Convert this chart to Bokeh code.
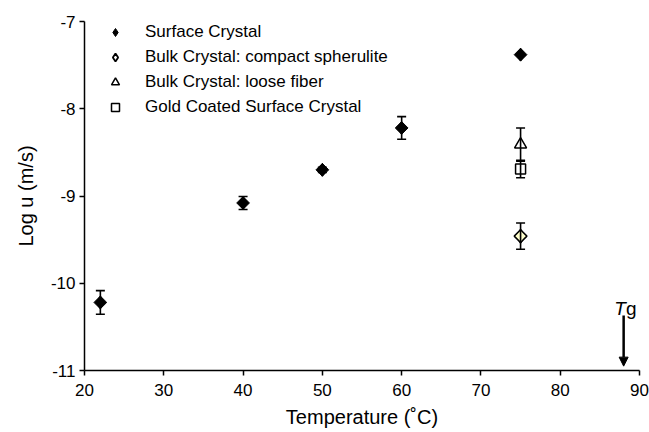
import numpy as np
from bokeh.plotting import figure
from bokeh.models import (ColumnDataSource, Whisker, TeeHead, Arrow, NormalHead,
                          Label, Legend, LegendItem, Range1d, FixedTicker)
from bokeh.embed import file_html
from bokeh.resources import INLINE

# ---------------- data ----------------
surf_T = [22, 40, 50, 60, 75]
surf_logu = [-10.22, -9.08, -8.70, -8.22, -7.38]
surf_err = [0.135, 0.075, 0.03, 0.13, 0.0]

sph_T = [75]
sph_logu = [-9.46]
sph_err = [0.15]

fib_T = [75]
fib_logu = [-8.41]
fib_err = [0.19]

gold_T = [75]
gold_logu = [-8.69]
gold_err = [0.10]

Tg = 88
x_ticks = [20, 30, 40, 50, 60, 70, 80, 90]
y_ticks = [-11, -10, -9, -8, -7]
legend_labels = ["Surface Crystal", "Bulk Crystal: compact spherulite",
                 "Bulk Crystal: loose fiber", "Gold Coated Surface Crystal"]

FONT = "Liberation Sans"

p = figure(width=649, height=432, x_range=Range1d(20, 90), y_range=Range1d(-11, -7),
           output_backend="svg", toolbar_location=None,
           min_border_left=84, min_border_right=10, min_border_top=21, min_border_bottom=62)
p.outline_line_color = None
p.xgrid.visible = False
p.ygrid.visible = False
p.background_fill_color = "white"
p.border_fill_color = "white"

for ax, ticks in ((p.xaxis[0], x_ticks), (p.yaxis[0], y_ticks)):
    ax.ticker = FixedTicker(ticks=ticks)
    ax.major_label_overrides = {t: str(t) for t in ticks}
    ax.minor_tick_line_color = None
    ax.major_tick_in = 0
    ax.major_tick_out = 5
    ax.axis_line_color = "black"
    ax.axis_line_width = 1.5
    ax.major_tick_line_color = "black"
    ax.major_tick_line_width = 1.5
    ax.major_label_text_font = FONT
    ax.major_label_text_font_size = "17px"
    ax.major_label_text_color = "black"
    ax.axis_label_text_font = FONT
    ax.axis_label_text_font_size = "20px"
    ax.axis_label_text_font_style = "normal"
    ax.axis_label_text_color = "black"

p.xaxis[0].major_label_standoff = 8
p.xaxis[0].axis_label = "Temperature (˚C)"
p.xaxis[0].axis_label_standoff = 7
p.yaxis[0].major_label_standoff = 4
p.yaxis[0].axis_label = "Log u (m/s)"
p.yaxis[0].axis_label_standoff = 11

def whiskers(xs, ys, es):
    xs = np.asarray(xs, float); ys = np.asarray(ys, float); es = np.asarray(es, float)
    m = es > 0
    src = ColumnDataSource(dict(x=xs[m], upper=ys[m] + es[m], lower=ys[m] - es[m]))
    w = Whisker(source=src, base="x", upper="upper", lower="lower", dimension="height",
                line_width=1.6, line_color="black",
                upper_head=TeeHead(size=9, line_width=1.6, line_color="black"),
                lower_head=TeeHead(size=9, line_width=1.6, line_color="black"))
    w.level = "glyph"
    p.add_layout(w)

whiskers(surf_T, surf_logu, surf_err)
whiskers(sph_T, sph_logu, sph_err)
whiskers(fib_T, fib_logu, fib_err)
whiskers(gold_T, gold_logu, gold_err)

# legend glyphs (plain diamonds, hidden beneath the rotated-square markers)
l_surf = p.scatter(surf_T, surf_logu, marker="diamond", size=13,
                   fill_color="black", line_color="black")
l_sph = p.scatter(sph_T, sph_logu, marker="diamond", size=13,
                  fill_color="white", line_color="black", line_width=1.8)

p.scatter(surf_T, surf_logu, marker="square", angle=np.pi / 4, size=9,
          fill_color="black", line_color="black", line_width=1)
p.scatter(sph_T, sph_logu, marker="square", angle=np.pi / 4, size=9,
          fill_color="#FFFFCC", line_color="black", line_width=1.5)
r_fib = p.scatter(fib_T, fib_logu, marker="triangle", size=12,
                  fill_color="white", line_color="black", line_width=1.5)
r_gold = p.scatter(gold_T, gold_logu, marker="square", size=10,
                   fill_color="white", line_color="black", line_width=1.5)

legend = Legend(items=[LegendItem(label=legend_labels[0], renderers=[l_surf]),
                       LegendItem(label=legend_labels[1], renderers=[l_sph]),
                       LegendItem(label=legend_labels[2], renderers=[r_fib]),
                       LegendItem(label=legend_labels[3], renderers=[r_gold])],
                location=(21, 253), glyph_width=20, glyph_height=20, label_height=20,
                spacing=5, padding=0, margin=0, label_standoff=20,
                border_line_color=None, background_fill_alpha=0,
                label_text_font=FONT, label_text_font_size="17px", label_text_color="black")
p.add_layout(legend)

# Tg annotation
p.add_layout(Arrow(end=NormalHead(size=9, fill_color="black", line_color="black"),
                   x_start=Tg, y_start=-10.37, x_end=Tg, y_end=-10.95,
                   line_width=2.5, line_color="black"))
p.add_layout(Label(x=Tg - 1.2, y=-10.29, text="T", text_font=FONT, text_font_size="19px",
                   text_font_style="italic", text_color="black",
                   text_baseline="alphabetic", text_align="left"))
p.add_layout(Label(x=Tg + 0.3, y=-10.29, text="g", text_font=FONT, text_font_size="19px",
                   text_color="black", text_baseline="alphabetic", text_align="left"))

open("out.html", "w").write(file_html(p, INLINE))
